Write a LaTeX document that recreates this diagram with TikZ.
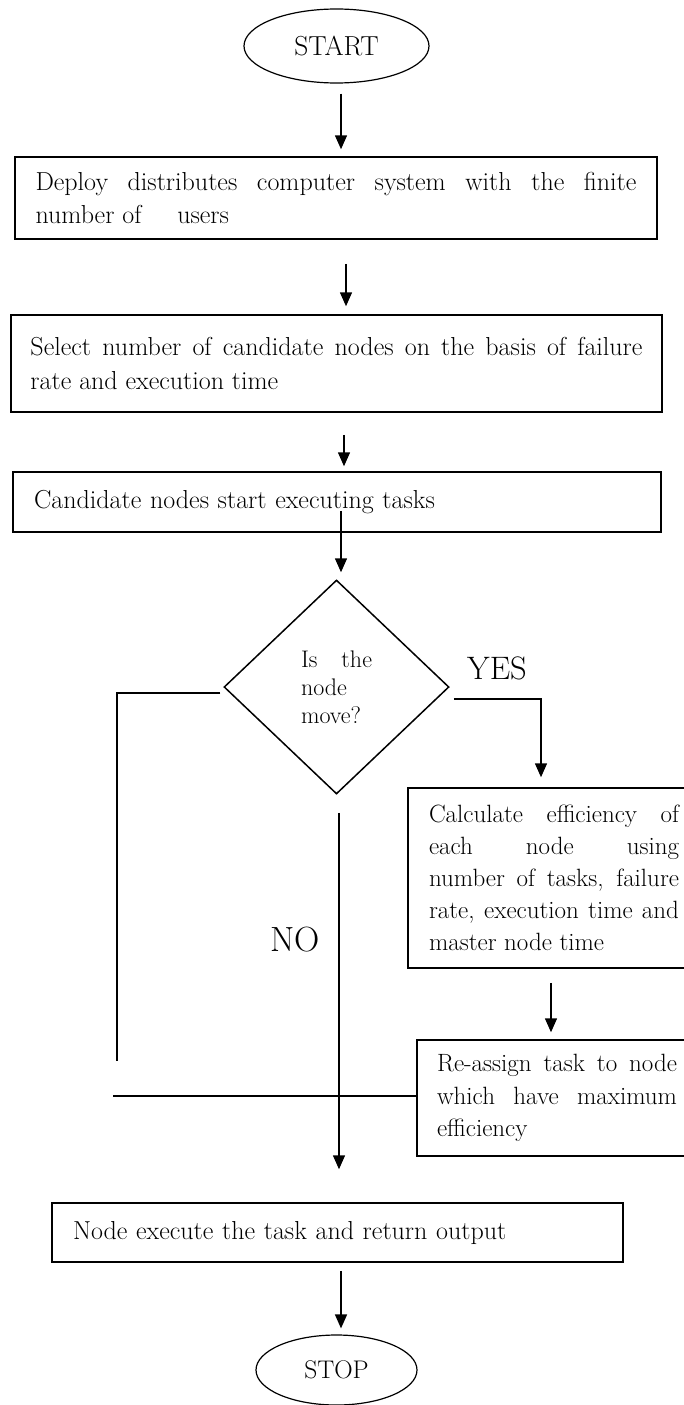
\documentclass[tikz,border=0pt]{standalone}
\usepackage{fontspec}
\usetikzlibrary{shapes.geometric,arrows.meta,calc}
\hyphenpenalty=10000\relax

\begin{document}
\begin{tikzpicture}[x=1pt,y=-1pt,
  line width=1.5pt,
  every node/.style={inner sep=0pt},
  terminal/.style={ellipse,draw,line width=1.2pt,inner sep=0pt},
  procbox/.style={rectangle,draw,align=justify,inner ysep=2pt,
    font=\fontsize{26}{33.5}\selectfont},
  decision/.style={diamond,draw,inner sep=0pt,align=justify,text width=71pt,
    font=\fontsize{24}{28}\selectfont},
  flow/.style={-{Triangle[length=14pt,width=12pt]}},
  branchlabel/.style={inner sep=0pt}
]
\useasboundingbox (0,0) rectangle (683,1405);

% terminals and process steps
\node[terminal,minimum width=185pt,minimum height=74pt,
      font=\fontsize{27.5}{30}\selectfont] (start) at (336.5,46) {START};

\node[procbox,text width=601pt,inner xsep=20.5pt,minimum height=82pt] (deploy) at (336,198)
  {Deploy distributes computer system with the finite\linebreak number of\hspace*{28pt} users};

\node[procbox,text width=612pt,inner xsep=19.5pt,minimum height=97pt] (select) at (336.5,363.5)
  {Select number of candidate nodes on the basis of failure\linebreak rate and execution time};

\node[procbox,align=left,text width=606pt,inner xsep=21pt,minimum height=60pt] (exec) at (337,502)
  {Candidate nodes start executing tasks};

\node[decision,minimum width=225pt,minimum height=214pt] (move) at (336.5,687)
  {Is the\linebreak node\linebreak move?};

\node[procbox,text width=250pt,inner xsep=21pt,minimum height=180pt,
      font=\fontsize{25}{32}\selectfont] (calc) at (554,878)
  {Calculate efficiency of\linebreak each node using\linebreak number of tasks, failure\linebreak rate, execution time and\linebreak master node time};

\node[procbox,text width=240pt,inner xsep=20pt,minimum height=116pt,
      font=\fontsize{25}{32.5}\selectfont] (reassign) at (557,1098)
  {Re-assign task to node\linebreak which have maximum\linebreak efficiency};

\node[procbox,align=left,text width=529pt,inner xsep=21pt,minimum height=59pt] (finish) at (337.5,1232.5)
  {Node execute the task and return output};

\node[terminal,minimum width=161pt,minimum height=70pt,
      font=\fontsize{25.5}{28}\selectfont] (stop) at (336.5,1370) {STOP};

% branch labels
\node[branchlabel,font=\fontsize{32.5}{36}\selectfont] (yes) at (497,668) {YES};
\node[branchlabel,font=\fontsize{35}{38}\selectfont] (no) at (295,940) {NO};

% free ends of the loop lines
\coordinate (loopTop) at (117,693);
\coordinate (loopEnd) at (117,1061);
\coordinate (backEnd) at (113,1096);

% main flow
\draw[flow] ($(start.south)+(4.5,10)$) -- ($(deploy.north)+(5,-7)$);
\draw[flow] ($(deploy.south)+(10,24)$) -- ($(select.north)+(9.5,-8)$);
\draw[flow] ($(select.south)+(7.5,22)$) -- ($(exec.north)+(7,-5)$);
\draw[flow] ($(exec.south)+(4,-22)$) -- ($(move.north)+(4.5,-7)$);

% YES branch
\draw[flow] ($(move.east)+(4,12)$) -| ($(calc.north)+(-13,-10)$);
\draw[flow] ($(calc.south)+(-3,14)$) -- ($(reassign.north)+(-6,-7)$);

% NO branch
\draw[flow] ($(move.south)+(2.5,18)$) -- ($(finish.north)+(1.5,-33)$);

% loop lines on the left
\draw ($(move.west)+(-3,6)$) -- (loopTop) -- (loopEnd);
\draw ($(reassign.west)+(0,-2)$) -- (backEnd);

% end
\draw[flow] ($(finish.south)+(3.5,8)$) -- ($(stop.north)+(4.5,-6)$);
\end{tikzpicture}
\end{document}
